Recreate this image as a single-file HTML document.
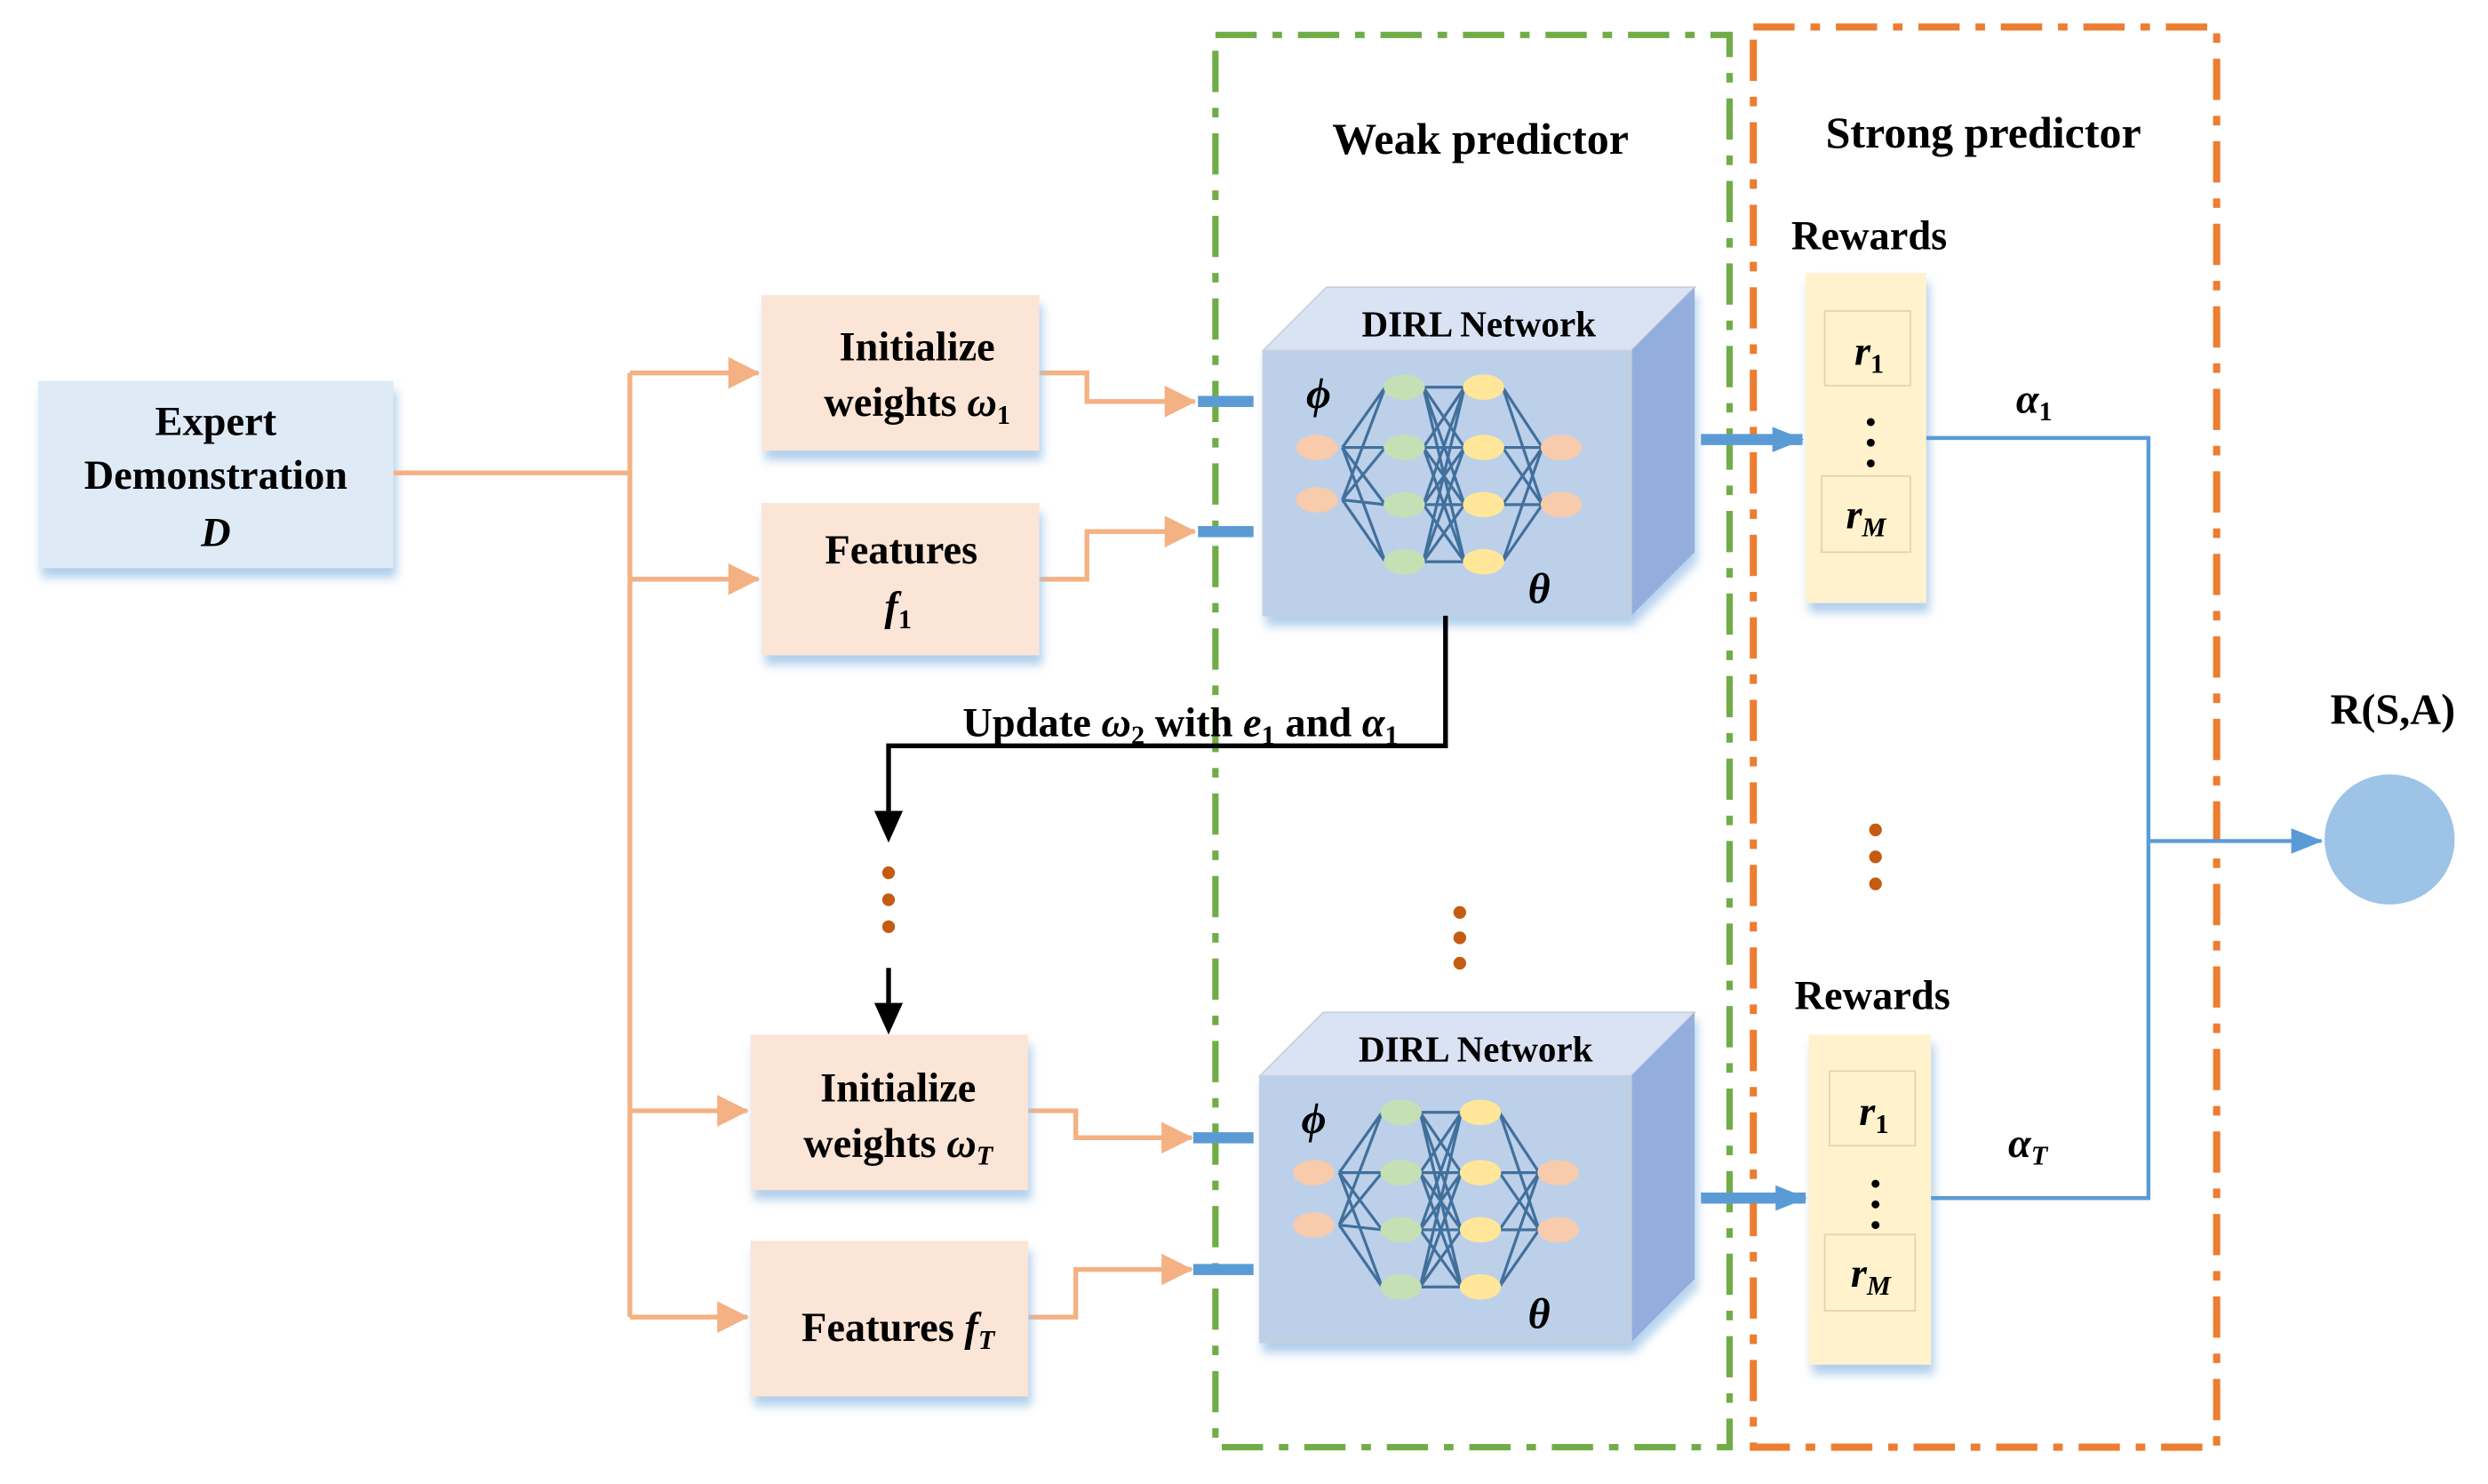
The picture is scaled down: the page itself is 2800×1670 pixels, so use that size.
<!DOCTYPE html>
<html><head><meta charset="utf-8">
<style>
html,body{margin:0;padding:0;background:#fff;}
svg{display:block;}
svg text{font-family:"Liberation Serif","Times New Roman",serif !important;font-weight:bold;fill:#000;}
</style></head>
<body>
<svg width="2800" height="1670" viewBox="0 0 1568 935.2" xmlns="http://www.w3.org/2000/svg" font-family="Liberation Serif, serif">
<defs>
<filter id="sh" x="-10%" y="-10%" width="130%" height="140%">
<feDropShadow dx="2" dy="6" stdDeviation="3" flood-color="#9dc3e6" flood-opacity="0.8"/>
</filter>
<marker id="ao2" markerWidth="20" markerHeight="20" refX="19" refY="10" orient="auto" markerUnits="userSpaceOnUse">
<path d="M0,0 L20,10 L0,20 z" fill="#f4b183"/></marker>
<marker id="ab" markerWidth="20" markerHeight="20" refX="19" refY="10" orient="auto" markerUnits="userSpaceOnUse">
<path d="M0,2 L20,10 L0,18 z" fill="#5b9bd5"/></marker>
<g id="net">
<g stroke="#41709c" stroke-width="1.8" fill="none">
<path d="M846,282 L873,244 M846,282 L873,282 M846,282 L873,318 M846,282 L873,354 M846,315 L873,244 M846,315 L873,282 M846,315 L873,318 M846,315 L873,354"/>
<path d="M897,244 L923,244 M897,244 L923,282 M897,244 L923,318 M897,244 L923,354 M897,282 L923,244 M897,282 L923,282 M897,282 L923,318 M897,282 L923,354 M897,318 L923,244 M897,318 L923,282 M897,318 L923,318 M897,318 L923,354 M897,354 L923,244 M897,354 L923,282 M897,354 L923,318 M897,354 L923,354"/>
<path d="M947,244 L972,282 M947,244 L972,318 M947,282 L972,282 M947,282 L972,318 M947,318 L972,282 M947,318 L972,318 M947,354 L972,282 M947,354 L972,318"/>
</g>
<g>
<ellipse cx="830" cy="282" rx="13" ry="8" fill="#f8cbad"/>
<ellipse cx="830" cy="315" rx="13" ry="8" fill="#f8cbad"/>
<ellipse cx="885" cy="244" rx="13" ry="8" fill="#c5e0b4"/>
<ellipse cx="885" cy="282" rx="13" ry="8" fill="#c5e0b4"/>
<ellipse cx="885" cy="318" rx="13" ry="8" fill="#c5e0b4"/>
<ellipse cx="885" cy="354" rx="13" ry="8" fill="#c5e0b4"/>
<ellipse cx="935" cy="244" rx="13" ry="8" fill="#ffe699"/>
<ellipse cx="935" cy="282" rx="13" ry="8" fill="#ffe699"/>
<ellipse cx="935" cy="318" rx="13" ry="8" fill="#ffe699"/>
<ellipse cx="935" cy="354" rx="13" ry="8" fill="#ffe699"/>
<ellipse cx="984" cy="282" rx="13" ry="8" fill="#f8cbad"/>
<ellipse cx="984" cy="318" rx="13" ry="8" fill="#f8cbad"/>
</g>
</g>
</defs>

<rect x="766" y="22" width="324" height="890" fill="none" stroke="#70ad47" stroke-width="4" stroke-dasharray="26,10,6,10"/>
<rect x="1105" y="17" width="292" height="895" fill="none" stroke="#ed7d31" stroke-width="4.5" stroke-dasharray="26,10,6,10"/>
<text x="933" y="97" font-size="28" text-anchor="middle">Weak predictor</text>
<text x="1250" y="93" font-size="28" text-anchor="middle">Strong predictor</text>

<rect x="24" y="240" width="224" height="118" fill="#deebf7" filter="url(#sh)"/>
<text x="136" y="274" font-size="26" text-anchor="middle">Expert</text>
<text x="136" y="308" font-size="26" text-anchor="middle">Demonstration</text>
<text x="136" y="344" font-size="26" text-anchor="middle" font-style="italic">D</text>

<g stroke="#f4b183" stroke-width="3" fill="none">
<path d="M248,298 L397,298"/>
<path d="M397,235 L397,830"/>
<path d="M397,235 L478,235" marker-end="url(#ao2)"/>
<path d="M397,365 L478,365" marker-end="url(#ao2)"/>
<path d="M397,700 L471,700" marker-end="url(#ao2)"/>
<path d="M397,830 L471,830" marker-end="url(#ao2)"/>
<path d="M655,235 L685,235 L685,253 L753,253" marker-end="url(#ao2)"/>
<path d="M655,365 L685,365 L685,335 L753,335" marker-end="url(#ao2)"/>
<path d="M648,700 L678,700 L678,717 L751,717" marker-end="url(#ao2)"/>
<path d="M648,830 L678,830 L678,800 L751,800" marker-end="url(#ao2)"/>
</g>

<g fill="#fbe5d6" filter="url(#sh)">
<rect x="480" y="186" width="175" height="98"/>
<rect x="480" y="317" width="175" height="96"/>
<rect x="473" y="652" width="175" height="98"/>
<rect x="473" y="782" width="175" height="98"/>
</g>
<text x="578" y="227" font-size="26" text-anchor="middle">Initialize</text>
<text x="578" y="262" font-size="26" text-anchor="middle">weights <tspan font-style="italic">ω</tspan><tspan font-size="17" dy="5">1</tspan></text>
<text x="568" y="355" font-size="26" text-anchor="middle">Features</text>
<text x="566" y="391" font-size="26" text-anchor="middle"><tspan font-style="italic">f</tspan><tspan font-size="17" dy="5">1</tspan></text>
<text x="566" y="694" font-size="26" text-anchor="middle">Initialize</text>
<text x="566" y="729" font-size="26" text-anchor="middle">weights <tspan font-style="italic">ω</tspan><tspan font-size="17" dy="5" font-style="italic">T</tspan></text>
<text x="566" y="845" font-size="26" text-anchor="middle">Features <tspan font-style="italic">f</tspan><tspan font-size="17" dy="5" font-style="italic">T</tspan></text>

<g stroke="#5b9bd5" stroke-width="7">
<path d="M755,253 L790,253 M755,335 L790,335 M752,717 L790,717 M752,800 L790,800"/>
</g>

<g filter="url(#sh)">
<polygon points="796,221 836,181 1068,181 1028,221" fill="#dae3f3" stroke="#c8d0dc" stroke-width="1"/>
<polygon points="1028,221 1068,181 1068,348 1028,388" fill="#8faadc" opacity="0.9"/>
<rect x="796" y="221" width="232" height="167" fill="#bdd0ea" stroke="#c8d0dc" stroke-width="1"/>
</g>
<text x="932" y="212" font-size="23" text-anchor="middle">DIRL Network</text>
<use href="#net"/>
<text x="831" y="257" font-size="27" font-style="italic" text-anchor="middle">ϕ</text>
<text x="970" y="380" font-size="27" font-style="italic" text-anchor="middle">θ</text>

<g filter="url(#sh)">
<polygon points="794,678 834,638 1068,638 1028,678" fill="#dae3f3" stroke="#c8d0dc" stroke-width="1"/>
<polygon points="1028,678 1068,638 1068,806 1028,846" fill="#8faadc" opacity="0.9"/>
<rect x="794" y="678" width="234" height="168" fill="#bdd0ea" stroke="#c8d0dc" stroke-width="1"/>
</g>
<text x="930" y="669" font-size="23" text-anchor="middle">DIRL Network</text>
<use href="#net" transform="translate(-2,457)"/>
<text x="828" y="714" font-size="27" font-style="italic" text-anchor="middle">ϕ</text>
<text x="970" y="837" font-size="27" font-style="italic" text-anchor="middle">θ</text>

<g stroke="#000" stroke-width="3" fill="none">
<path d="M911,388 L911,470 L560,470 L560,515"/>
<path d="M560,610 L560,635"/>
</g>
<polygon points="551,511 569,511 560,531" fill="#000"/>
<polygon points="551,632 569,632 560,652" fill="#000"/>
<text x="744" y="464" font-size="26" text-anchor="middle">Update <tspan font-style="italic">ω</tspan><tspan font-size="17" dy="5">2</tspan><tspan dy="-5"> with </tspan><tspan font-style="italic">e</tspan><tspan font-size="17" dy="5">1</tspan><tspan dy="-5"> and </tspan><tspan font-style="italic">α</tspan><tspan font-size="17" dy="5">1</tspan></text>

<g fill="#c55a11">
<circle cx="560" cy="550" r="4"/><circle cx="560" cy="567" r="4"/><circle cx="560" cy="584" r="4"/>
<circle cx="920" cy="575" r="4"/><circle cx="920" cy="591" r="4"/><circle cx="920" cy="607" r="4"/>
<circle cx="1182" cy="523" r="4"/><circle cx="1182" cy="540" r="4"/><circle cx="1182" cy="557" r="4"/>
</g>

<g stroke="#5b9bd5" stroke-width="7" fill="none">
<path d="M1072,277 L1136,277" marker-end="url(#ab)"/>
<path d="M1072,755 L1138,755" marker-end="url(#ab)"/>
</g>

<text x="1178" y="157" font-size="26" text-anchor="middle">Rewards</text>
<text x="1180" y="636" font-size="26" text-anchor="middle">Rewards</text>
<g filter="url(#sh)">
<rect x="1138" y="172" width="76" height="208" fill="#fff2cc"/>
<rect x="1140" y="652" width="77" height="208" fill="#fff2cc"/>
</g>
<g fill="#fff2cc" stroke="#e0d6b0" stroke-width="1">
<rect x="1150" y="196" width="54" height="47"/>
<rect x="1148" y="300" width="56" height="48"/>
<rect x="1153" y="675" width="54" height="47"/>
<rect x="1150" y="778" width="57" height="48"/>
</g>
<text x="1178" y="230" font-size="26" text-anchor="middle" font-style="italic">r<tspan font-size="17" dy="5" font-style="normal">1</tspan></text>
<text x="1176" y="333" font-size="26" text-anchor="middle" font-style="italic">r<tspan font-size="17" dy="5">M</tspan></text>
<text x="1181" y="709" font-size="26" text-anchor="middle" font-style="italic">r<tspan font-size="17" dy="5" font-style="normal">1</tspan></text>
<text x="1179" y="811" font-size="26" text-anchor="middle" font-style="italic">r<tspan font-size="17" dy="5">M</tspan></text>
<g fill="#000">
<circle cx="1179" cy="266" r="2.5"/><circle cx="1179" cy="279" r="2.5"/><circle cx="1179" cy="292" r="2.5"/>
<circle cx="1182" cy="746" r="2.5"/><circle cx="1182" cy="759" r="2.5"/><circle cx="1182" cy="772" r="2.5"/>
</g>

<g stroke="#5b9bd5" stroke-width="2.5" fill="none">
<path d="M1214,276 L1354,276 L1354,755 L1217,755"/>
<path d="M1354,530 L1463,530" marker-end="url(#ab)"/>
</g>
<text x="1282" y="260" font-size="26" text-anchor="middle" font-style="italic">α<tspan font-size="17" dy="5" font-style="normal">1</tspan></text>
<text x="1278" y="729" font-size="26" text-anchor="middle" font-style="italic">α<tspan font-size="17" dy="5">T</tspan></text>
<circle cx="1506" cy="529" r="41" fill="#9dc3e6"/>
<text x="1508" y="456" font-size="27" text-anchor="middle">R(S,A)</text>
</svg>
</body></html>
